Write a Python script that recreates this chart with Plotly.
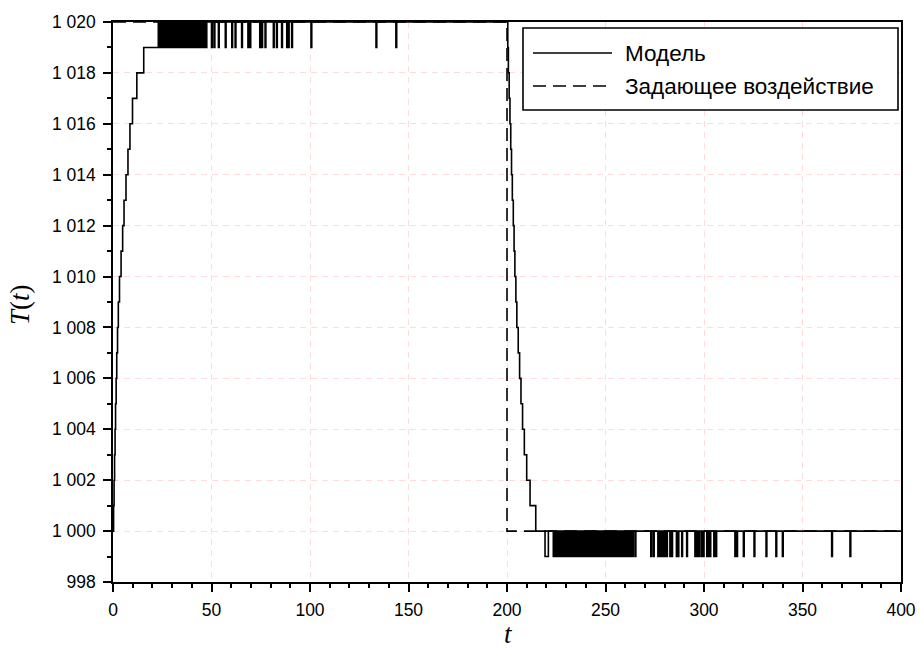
import plotly.graph_objects as go

# ---------------- data ----------------
# rise of the model output after start (step start time, level)
rise_t = [0, 0.3, 0.55, 0.8, 1.05, 1.3, 1.6, 1.9, 2.3, 2.7, 3.3, 4.1, 4.9, 5.6, 6.6, 7.6, 8.6, 9.9, 12.1, 15.6]
rise_T = [1000, 1001, 1002, 1003, 1004, 1005, 1006, 1007, 1008, 1009, 1010,
          1011, 1012, 1013, 1014, 1015, 1016, 1017, 1018, 1019]

upper_hi, upper_lo = 1020, 1019
# short jumps up to 1020 while the output mostly sits at 1019
top_pulses = [(23.0, 23.4), (23.8, 24.2), (24.6, 25.0), (25.3, 25.7), (26.1, 26.5), (26.9, 27.3),
              (27.6, 28.0), (28.4, 28.8), (29.2, 29.6), (30.0, 30.4), (30.7, 31.1), (31.5, 31.9),
              (32.3, 32.7), (33.0, 33.4), (33.8, 34.2), (34.6, 35.0), (35.4, 35.8), (36.1, 36.5),
              (36.9, 37.3), (37.7, 38.1), (38.4, 38.8), (39.2, 39.6), (40.0, 40.4), (40.8, 41.2),
              (41.5, 41.9), (42.3, 42.7), (43.1, 43.5), (43.8, 44.2), (44.6, 45.0), (45.4, 45.8),
              (46.2, 46.6), (46.9, 47.3)]
top_settle_t = 47.6
# short dips down to 1019 once the output sits at 1020
top_dips = [(50.0, 50.4), (51.3, 51.7), (53.5, 53.9), (57.0, 57.4), (60.3, 60.7), (62.0, 62.4),
            (65.3, 65.7), (68.5, 68.9), (69.5, 69.9), (74.5, 74.9), (75.5, 75.9), (77.2, 77.6),
            (81.4, 81.8), (83.0, 83.4), (85.6, 86.0), (88.2, 88.6), (89.0, 89.4), (90.7, 91.1),
            (100.5, 100.9), (133.5, 133.9), (143.6, 144.0)]

# fall after the set-point change (step start time, level)
fall_t = [200.4, 200.7, 201.1, 201.5, 201.9, 202.3, 202.7, 203.2, 203.6, 204.0,
          204.5, 205.0, 205.7, 206.4, 207.1, 207.9, 208.8, 210.0, 211.7, 214.6]
fall_T = [1019, 1018, 1017, 1016, 1015, 1014, 1013, 1012, 1011, 1010,
          1009, 1008, 1007, 1006, 1005, 1004, 1003, 1002, 1001, 1000]

lower_hi, lower_lo = 1000, 999
bottom_dips = [(219.3, 221.0), (223.5, 223.9), (224.3, 224.7), (225.1, 225.5), (225.8, 226.2),
               (226.6, 227.0), (227.4, 227.8), (228.1, 228.5), (228.9, 229.3), (229.7, 230.1),
               (230.5, 230.9), (231.2, 231.6), (232.0, 232.4), (232.8, 233.2), (233.5, 233.9),
               (234.3, 234.7), (235.1, 235.5), (235.9, 236.3), (236.6, 237.0), (237.4, 237.8),
               (238.2, 238.6), (238.9, 239.3), (239.7, 240.1), (240.5, 240.9), (241.3, 241.7),
               (242.0, 242.4), (242.8, 243.2), (243.6, 244.0), (244.3, 244.7), (245.1, 245.5),
               (245.9, 246.3), (246.7, 247.1), (247.4, 247.8), (248.2, 248.6), (249.0, 249.4),
               (249.7, 250.1), (250.5, 250.9), (251.3, 251.7), (252.1, 252.5), (252.8, 253.2),
               (253.6, 254.0), (254.4, 254.8), (255.1, 255.5), (255.9, 256.3), (256.7, 257.1),
               (257.5, 257.9), (258.2, 258.6), (259.0, 259.4), (259.8, 260.2), (260.6, 261.0),
               (261.4, 261.8), (262.2, 262.6), (263.0, 263.4), (263.7, 264.1), (265.0, 265.4),
               (273.0, 273.4), (274.3, 274.7), (276.6, 277.0), (277.6, 278.0), (278.6, 279.0),
               (279.4, 279.8), (280.4, 280.8), (281.0, 281.4), (282.7, 283.1), (283.6, 284.0),
               (286.0, 286.4), (286.8, 287.2), (288.7, 289.1), (291.2, 291.6), (295.4, 295.8),
               (296.3, 296.7), (297.5, 297.9), (298.8, 299.2), (299.6, 300.0), (301.4, 301.8),
               (302.2, 302.6), (303.0, 303.4), (305.0, 305.4), (306.0, 306.4), (315.7, 316.1),
               (316.6, 317.0), (320.0, 320.4), (325.4, 325.8), (331.5, 331.9), (336.5, 336.9),
               (339.8, 340.2), (364.8, 365.2), (374.1, 374.5)]
t_end = 400

# set-point signal
setpoint_t = [0, 200, 200, 400]
setpoint_T = [1020, 1020, 1000, 1000]

x_tick_vals = [0, 50, 100, 150, 200, 250, 300, 350, 400]
x_tick_text = ["0", "50", "100", "150", "200", "250", "300", "350", "400"]
y_tick_vals = [998, 1000, 1002, 1004, 1006, 1008, 1010, 1012, 1014, 1016, 1018, 1020]
y_tick_text = ["998", "1 000", "1 002", "1 004", "1 006", "1 008", "1 010", "1 012",
               "1 014", "1 016", "1 018", "1 020"]

legend_names = ["Модель", "Задающее воздействие"]
x_title = "<i>t</i>"
y_title = "<i>T</i>(<i>t</i>)"

# ------------- build model step series -------------
mx, my = list(rise_t), list(rise_T)
for s, e in top_pulses:
    mx += [s, e]
    my += [upper_hi, upper_lo]
mx.append(top_settle_t)
my.append(upper_hi)
for s, e in top_dips:
    mx += [s, e]
    my += [upper_lo, upper_hi]
mx += fall_t
my += fall_T
for s, e in bottom_dips:
    mx += [s, e]
    my += [lower_lo, lower_hi]
mx.append(t_end)
my.append(lower_hi)

DASH = "13px,7px"
LW = 1.6

fig = go.Figure()
fig.add_trace(go.Scatter(x=mx, y=my, mode="lines", line=dict(color="black", width=LW, shape="hv"),
                         name=legend_names[0]))
fig.add_trace(go.Scatter(x=setpoint_t, y=setpoint_T, mode="lines",
                         line=dict(color="black", width=LW, dash=DASH), name=legend_names[1]))

axis_common = dict(
    showline=True, linecolor="black", linewidth=1.6, mirror=True,
    ticks="outside", ticklen=8, tickwidth=1.6, tickcolor="black",
    showgrid=True, gridcolor="#ffdcdc", gridwidth=1, griddash="6px,5px",
    zeroline=False, automargin=False,
    tickfont=dict(family="Liberation Sans, Arial", size=17.5, color="black"),
)

fig.update_xaxes(range=[0, 400], tickmode="array", tickvals=x_tick_vals, ticktext=x_tick_text,
                 ticklabelstandoff=3,
                 minor=dict(dtick=10, tick0=0, ticks="outside", ticklen=4, tickwidth=1.6,
                            tickcolor="black", showgrid=False),
                 **axis_common)
fig.update_yaxes(range=[998, 1020], tickmode="array", tickvals=y_tick_vals, ticktext=y_tick_text,
                 ticklabelstandoff=4,
                 minor=dict(dtick=1, tick0=998, ticks="outside", ticklen=4, tickwidth=1.6,
                            tickcolor="black", showgrid=False),
                 **axis_common)

# pixel -> paper helpers (plot area 113..901 x 22..582)
def px_x(p):
    return (p - 113) / 788.0

def px_y(p):
    return (582 - p) / 560.0

LEG_FONT = dict(family="Liberation Sans, Arial", size=22.5, color="black")
TITLE_FONT = dict(family="Liberation Serif", size=27, color="black")
shapes = [
    dict(type="rect", xref="paper", yref="paper", x0=px_x(523), x1=px_x(898), y0=px_y(110), y1=px_y(28),
         line=dict(color="black", width=1.6), fillcolor="white", layer="above"),
    dict(type="line", xref="paper", yref="paper", x0=px_x(533), x1=px_x(612), y0=px_y(53), y1=px_y(53),
         line=dict(color="black", width=LW), layer="above"),
    dict(type="line", xref="paper", yref="paper", x0=px_x(533), x1=px_x(612), y0=px_y(86), y1=px_y(86),
         line=dict(color="black", width=LW, dash=DASH), layer="above"),
]
annotations = [
    dict(xref="paper", yref="paper", x=px_x(623), y=px_y(53), text=legend_names[0], showarrow=False,
         xanchor="left", yanchor="middle", font=LEG_FONT),
    dict(xref="paper", yref="paper", x=px_x(623), y=px_y(86), text=legend_names[1], showarrow=False,
         xanchor="left", yanchor="middle", font=LEG_FONT),
    dict(xref="paper", yref="paper", x=px_x(508), y=px_y(650), text=x_title, showarrow=False,
         xanchor="center", yanchor="bottom", borderpad=0, font=TITLE_FONT),
    dict(xref="paper", yref="paper", x=px_x(20), y=px_y(305), text=y_title, showarrow=False,
         textangle=-90, xanchor="center", yanchor="middle", font=TITLE_FONT),
]

fig.update_layout(
    width=920, height=651,
    margin=dict(l=113, r=19, t=22, b=69),
    plot_bgcolor="white", paper_bgcolor="white",
    showlegend=False,
    font=dict(family="Liberation Sans, Arial", size=17.5, color="black"),
    shapes=shapes, annotations=annotations,
)

fig.write_html("out.html")
